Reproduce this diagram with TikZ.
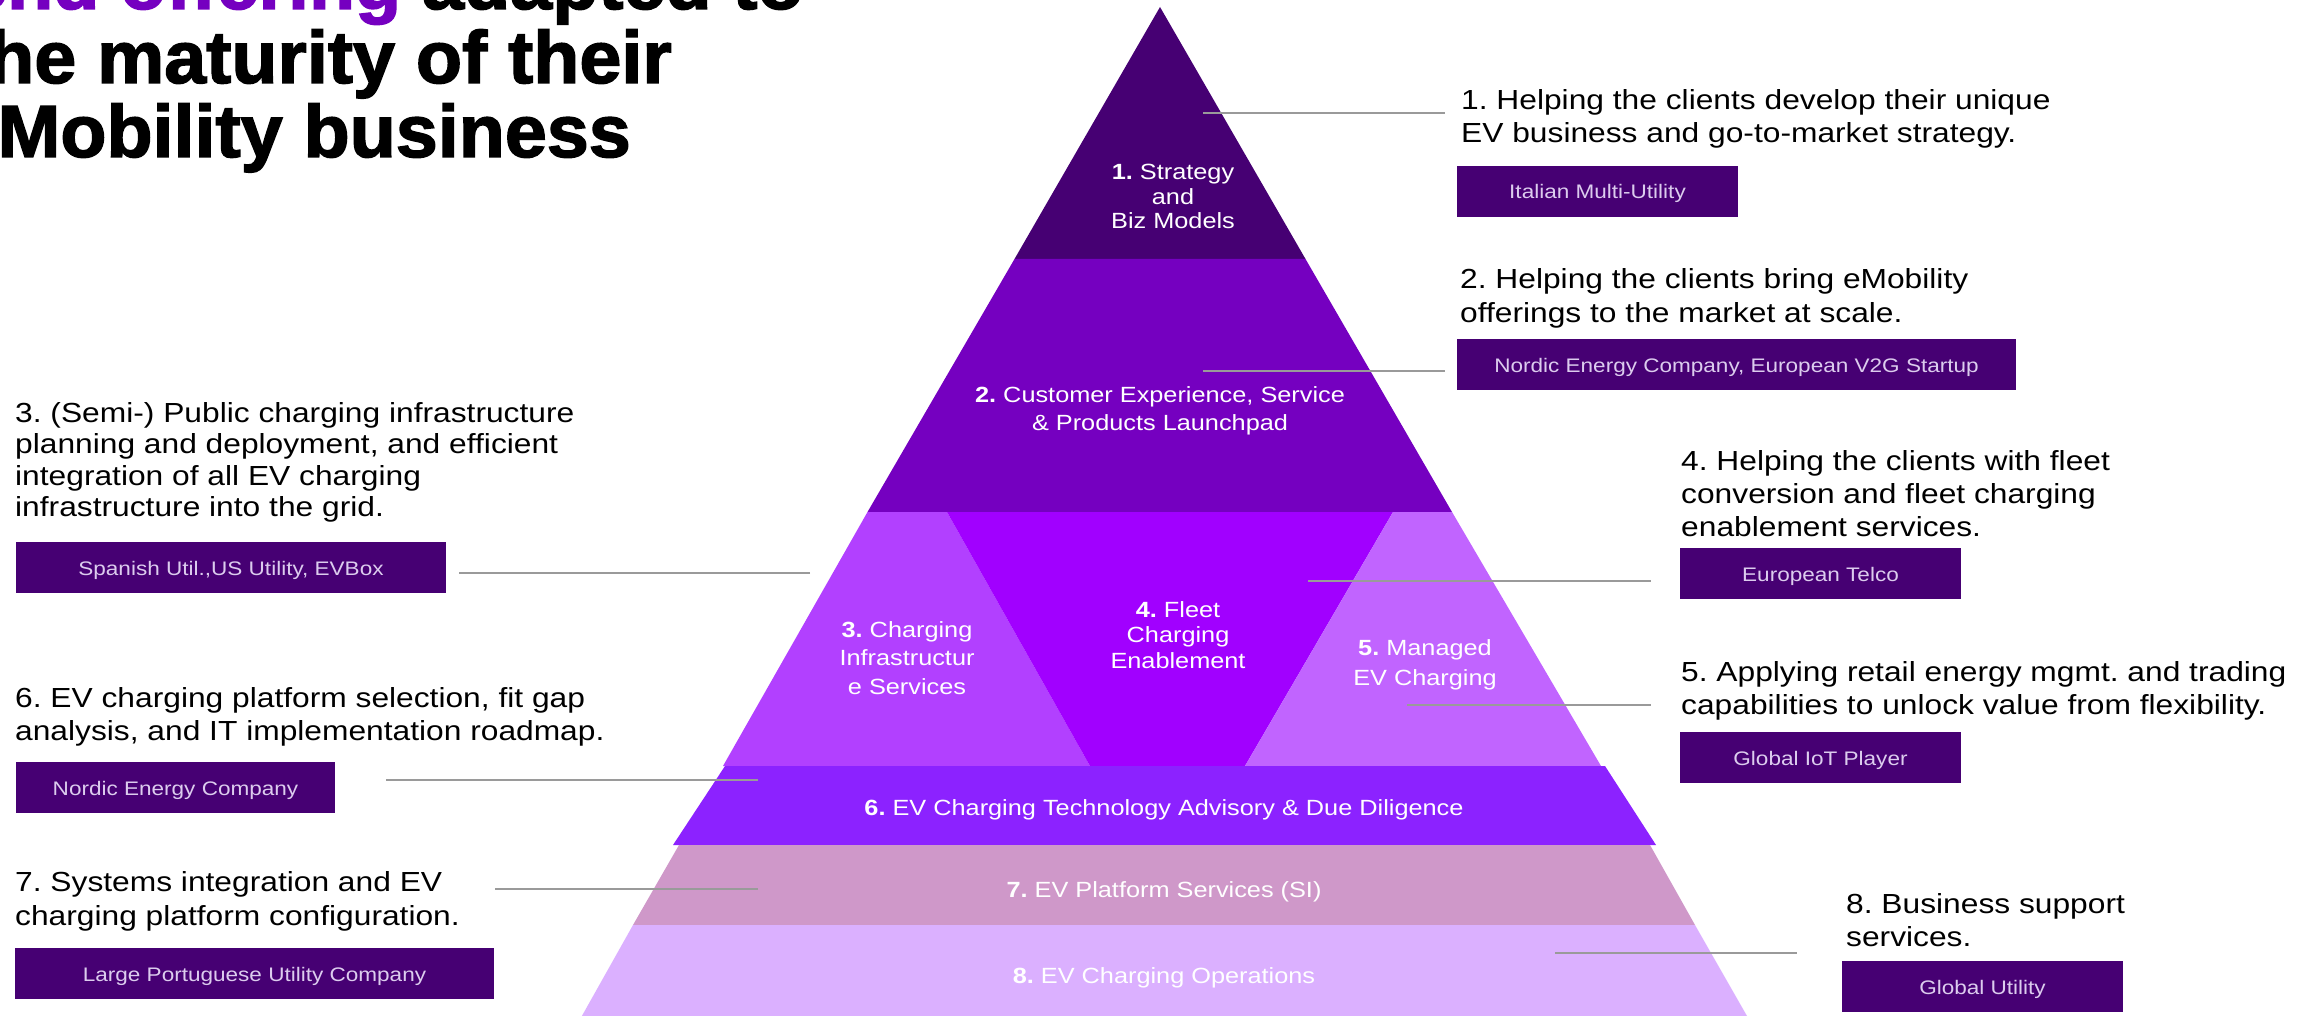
\documentclass[tikz,border=0pt]{standalone}
\usepackage{fontspec}
\setmainfont{Liberation Sans}[FakeStretch=1.15]
\newfontfamily\titlefont{Liberation Sans}[FakeStretch=1.02, BoldFeatures={FakeBold=2}]
\definecolor{tone}{HTML}{460073}
\definecolor{ttwo}{HTML}{7500C0}
\definecolor{tthree}{HTML}{B240FF}
\definecolor{tfour}{HTML}{A100FF}
\definecolor{tfive}{HTML}{C164FF}
\definecolor{tsix}{HTML}{8C22FF}
\definecolor{tseven}{HTML}{CF98C9}
\definecolor{teight}{HTML}{DBB0FF}
\definecolor{boxbg}{HTML}{460073}
\definecolor{boxtxt}{HTML}{DCCCEE}
\definecolor{connc}{HTML}{9A9A9A}
\definecolor{titlepurple}{HTML}{7500C0}
\newcommand\Lft[1]{\begin{tabular}[t]{@{}l@{}}#1\end{tabular}}
\newcommand\Ctr[1]{\begin{tabular}[t]{@{}c@{}}#1\end{tabular}}
\frenchspacing
\tikzset{
  desc/.style={anchor=base west, inner sep=0pt, text=black, font=\fontsize{27.6}{33}\selectfont},
  plabel/.style={anchor=base, inner sep=0pt, text=white},
  client/.style={fill=boxbg, text=boxtxt, inner sep=0pt, text height=15pt, text depth=0pt,
    minimum height=51pt, font=\fontsize{19.6}{22}\selectfont},
  conn/.style={draw=connc, line width=1.6pt},
  ttl/.style={anchor=base east, inner sep=0pt, text=black, font=\titlefont\bfseries\fontsize{74}{74}\selectfont}
}
\begin{document}
\begin{tikzpicture}[x=1pt,y=-1pt]
\useasboundingbox (0,0) rectangle (2323,1016);
\fill[white] (0,0) rectangle (2323,1016);
\begin{scope}
\clip (0,0) rectangle (2323,1016);
% pyramid tiers
\fill[tone]   (1160,7) -- (1305.5,259) -- (1014.5,259) -- cycle;
\fill[ttwo]   (1014.5,259) -- (1305.5,259) -- (1452,512) -- (867.5,512) -- cycle;
\fill[tthree] (867.5,512) -- (947,512) -- (1090,766) -- (723,766) -- cycle;
\fill[tfour]  (947,512) -- (1393,512) -- (1245,766) -- (1090,766) -- cycle;
\fill[tfive]  (1393,512) -- (1452,512) -- (1601,766) -- (1245,766) -- cycle;
\fill[tsix]   (725,766) -- (1605,766) -- (1656,845) -- (673,845) -- cycle;
\fill[tseven] (679,845) -- (1650,845) -- (1695,925) -- (633,925) -- cycle;
\fill[teight] (633,925) -- (1695,925) -- (1755,1030) -- (574,1030) -- cycle;
% title
\node[ttl] (title1) at (804,9) {{\color{titlepurple}end-to-end offering} adapted to};
\node[ttl] (title2) at (672,83) {the maturity of their};
\node[ttl] (title3) at (631,157) {eMobility business};
\end{scope}
% pyramid labels
\node[plabel, font=\fontsize{22}{24.5}\selectfont] (p1) at (1173,180) {\Ctr{\textbf{1.} Strategy\\and\\Biz Models}};
\node[plabel, font=\fontsize{22}{28}\selectfont] (p2) at (1160,402) {\Ctr{\textbf{2.} Customer Experience, Service\\\& Products Launchpad}};
\node[plabel, font=\fontsize{22}{28.5}\selectfont] (p3) at (907,637) {\Ctr{\textbf{3.} Charging\\Infrastructur\\e Services}};
\node[plabel, font=\fontsize{22}{25.5}\selectfont] (p4) at (1178,617) {\Ctr{\textbf{4.} Fleet\\Charging\\Enablement}};
\node[plabel, font=\fontsize{22}{30}\selectfont] (p5) at (1425,655) {\Ctr{\textbf{5.} Managed\\EV Charging}};
\node[plabel, font=\fontsize{22}{26}\selectfont] (p6) at (1164,815) {\textbf{6.} EV Charging Technology Advisory \& Due Diligence};
\node[plabel, font=\fontsize{22}{26}\selectfont] (p7) at (1164,897) {\textbf{7.} EV Platform Services (SI)};
\node[plabel, font=\fontsize{22}{26}\selectfont] (p8) at (1164,983) {\textbf{8.} EV Charging Operations};
% descriptions
\node[desc] (d1) at (1461,110) {\Lft{1. Helping the clients develop their unique\\EV business and go-to-market strategy.}};
\node[desc] (d2) at (1460,289) {\Lft{2. Helping the clients bring eMobility\\offerings to the market at scale.}};
\node[desc, font=\fontsize{27.6}{31.6}\selectfont] (d3) at (15,422) {\Lft{3. (Semi-) Public charging infrastructure\\planning and deployment, and efficient\\integration of all EV charging\\infrastructure into the grid.}};
\node[desc] (d4) at (1681,470) {\Lft{4. Helping the clients with fleet\\conversion and fleet charging\\enablement services.}};
\node[desc] (d5) at (1681,681) {\Lft{5. Applying retail energy mgmt. and trading\\capabilities to unlock value from flexibility.}};
\node[desc] (d6) at (15,707) {\Lft{6. EV charging platform selection, fit gap\\analysis, and IT implementation roadmap.}};
\node[desc, font=\fontsize{27.6}{34.5}\selectfont] (d7) at (15,891) {\Lft{7. Systems integration and EV\\charging platform configuration.}};
\node[desc] (d8) at (1846,913) {\Lft{8. Business support\\services.}};
% client boxes
\node[client, minimum width=281pt] (b1) at (1597.5,191.5) {Italian Multi-Utility};
\node[client, minimum width=559pt] (b2) at (1736.5,364.5) {Nordic Energy Company, European V2G Startup};
\node[client, minimum width=430pt] (b3) at (231,567.5) {Spanish Util.,US Utility, EVBox};
\node[client, minimum width=281pt] (b4) at (1820.5,573.5) {European Telco};
\node[client, minimum width=281pt] (b5) at (1820.5,757.5) {Global IoT Player};
\node[client, minimum width=319pt] (b6) at (175.5,787.5) {Nordic Energy Company};
\node[client, minimum width=479pt] (b7) at (254.5,973.5) {Large Portuguese Utility Company};
\node[client, minimum width=281pt] (b8) at (1982.5,986.5) {Global Utility};
% connector end points
\coordinate (c1a) at (1203,113);  \coordinate (c1b) at (1445,113);
\coordinate (c2a) at (1203,371);  \coordinate (c2b) at (1445,371);
\coordinate (c3a) at (810,573);   \coordinate (c3b) at (459,573);
\coordinate (c4a) at (1308,581);  \coordinate (c4b) at (1651,581);
\coordinate (c5a) at (1407,705);  \coordinate (c5b) at (1651,705);
\coordinate (c6a) at (758,780);   \coordinate (c6b) at (386,780);
\coordinate (c7a) at (758,889);   \coordinate (c7b) at (495,889);
\coordinate (c8a) at (1555,953);  \coordinate (c8b) at (1797,953);
\draw[conn] (c1a) -- (c1b);
\draw[conn] (c2a) -- (c2b);
\draw[conn] (c3a) -- (c3b);
\draw[conn] (c4a) -- (c4b);
\draw[conn] (c5a) -- (c5b);
\draw[conn] (c6a) -- (c6b);
\draw[conn] (c7a) -- (c7b);
\draw[conn] (c8a) -- (c8b);
\end{tikzpicture}
\end{document}
